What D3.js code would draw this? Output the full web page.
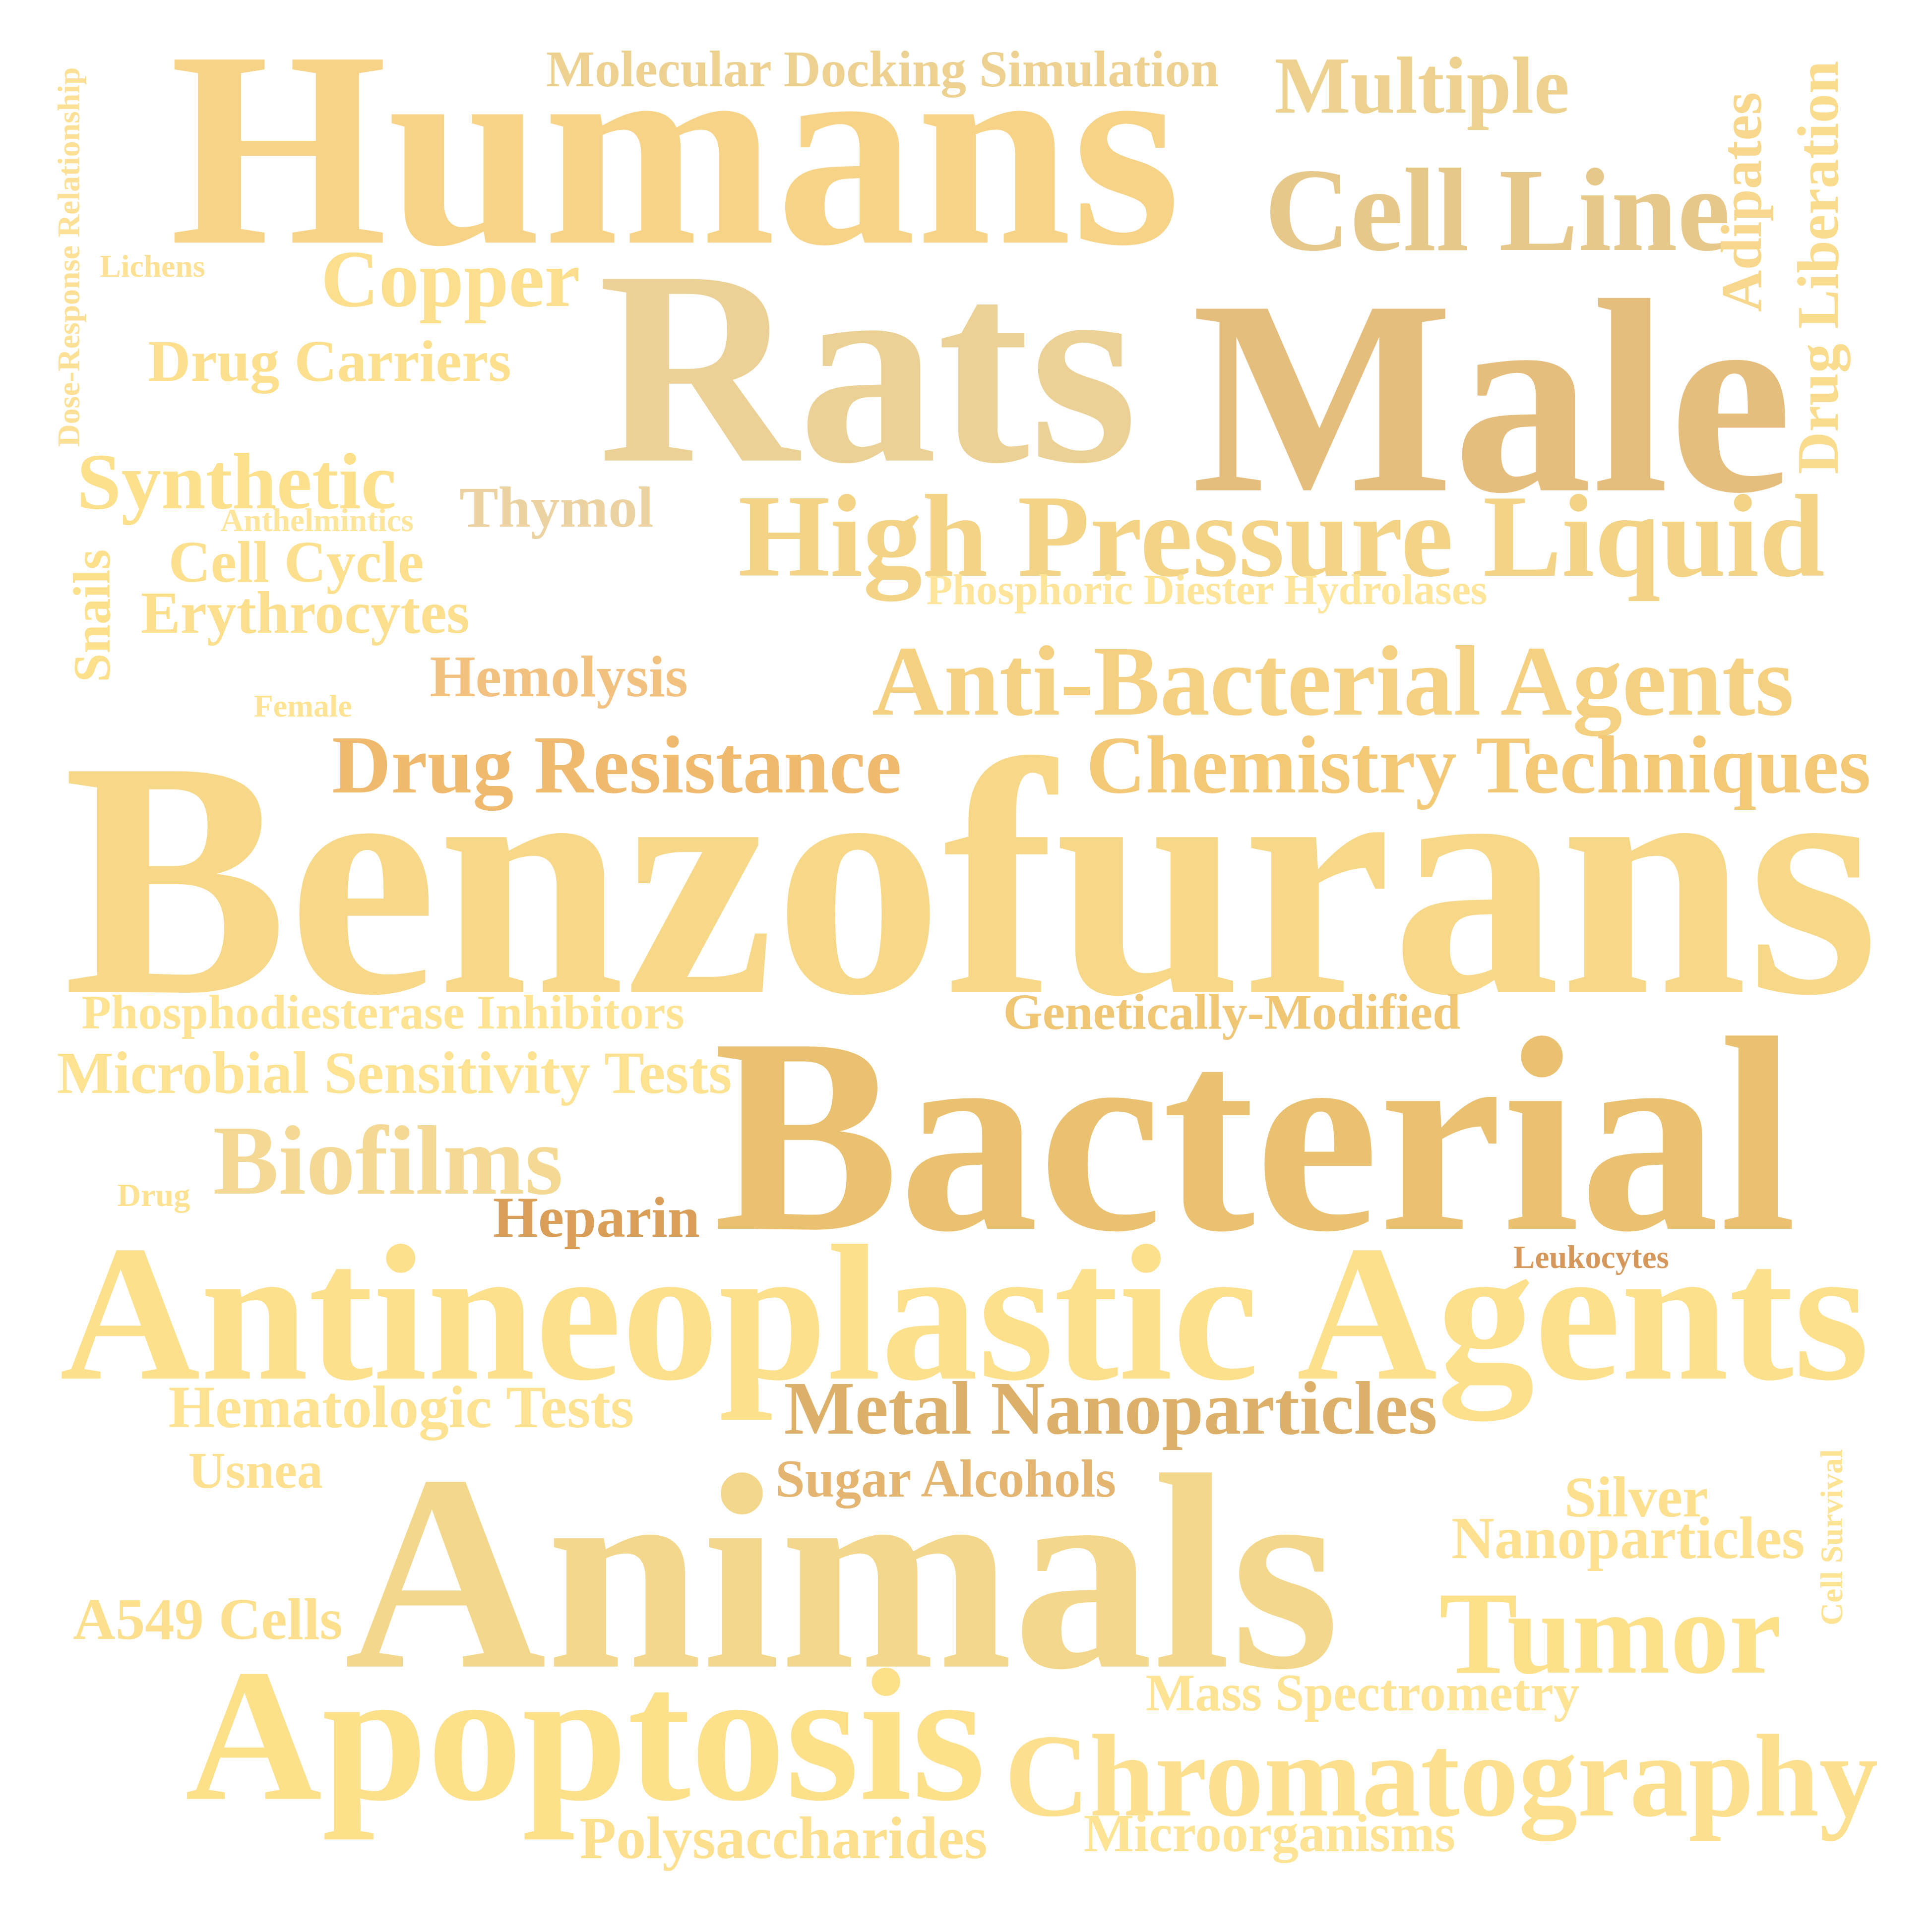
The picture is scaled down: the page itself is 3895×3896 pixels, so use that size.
<!DOCTYPE html>
<html>
<head>
<meta charset="utf-8">
<script src="https://cdn.jsdelivr.net/npm/d3@7"></script>
<style>
  body { margin: 0; background: #fff; }
</style>
</head>
<body>
<script>
// word cloud of MeSH terms, weights
var words = ["Humans", "Molecular Docking Simulation", "Multiple", "Cell Line", "Adipates",
  "Drug Liberation", "Dose-Response Relationship", "Lichens", "Copper", "Drug Carriers",
  "Rats", "Male", "Synthetic", "Anthelmintics", "Thymol", "Cell Cycle", "Erythrocytes",
  "Snails", "High Pressure Liquid", "Phosphoric Diester Hydrolases", "Hemolysis", "Female",
  "Anti-Bacterial Agents", "Drug Resistance", "Chemistry Techniques", "Benzofurans",
  "Phosphodiesterase Inhibitors", "Genetically-Modified", "Microbial Sensitivity Tests",
  "Bacterial", "Biofilms", "Drug", "Heparin", "Leukocytes", "Antineoplastic Agents",
  "Hematologic Tests", "Metal Nanoparticles", "Usnea", "Sugar Alcohols", "Animals",
  "A549 Cells", "Apoptosis", "Polysaccharides", "Silver", "Nanoparticles", "Cell Survival",
  "Tumor", "Mass Spectrometry", "Chromatography", "Microorganisms"];

var weights = [226, 41.5, 65, 96, 47, 47.5, 25.5, 25.5, 65, 47.8,
  224, 224, 64.5, 26, 47, 47.3, 48, 42, 95.5, 34.5, 47.5, 25.5,
  80.5, 66, 66.5, 272, 39.2, 40.8, 48.4, 225, 79.5, 26.5, 47, 26, 157,
  48.5, 60.7, 41.6, 43, 226, 47.5, 153, 48.2, 46.5, 48, 25.5,
  95, 42.3, 95, 43];

// placement of each word on a 1560 grid (left/baseline), and its turn
var placeX = [137, 441, 1029, 1021, 1422, 1484, 64, 80.6, 259, 119.5,
  483, 962, 62, 178, 371, 136, 113.6, 88.7, 596, 748, 347, 205,
  704, 268, 877, 51, 65.8, 810, 46, 576, 172, 94.6, 398, 1222, 48.3,
  136, 633, 152, 626, 278, 59, 149.5, 468, 1263, 1172, 1487.5,
  1162, 925, 811, 875];
var placeY = [196, 69.5, 91, 202, 252, 383, 361, 223.5, 247, 307.5,
  372, 396, 410.5, 429, 425.5, 470, 511, 551, 465, 488, 562.5, 578.7,
  577, 640, 640, 801, 830.5, 831, 882.6, 992.5, 964, 974, 999, 1024, 1113.4,
  1152.6, 1158, 1201.7, 1208.7, 1346, 1323.6, 1453, 1500.8, 1224.7, 1258.5, 1312.8,
  1351, 1381.5, 1466.4, 1495];
var turned = ["Adipates", "Drug Liberation", "Dose-Response Relationship", "Snails", "Cell Survival"];

var palette = ["#F6D386", "#ECD191", "#ECD28E", "#E6C88A", "#F6D78C",
  "#FADC8F", "#FCE096", "#FCE195", "#FCDF8C", "#FDE08E",
  "#EBD196", "#E5BE7E", "#FDE08B", "#FDE59C", "#ECD2A0", "#FDE08D", "#FCDF8C",
  "#FDE08C", "#F3D385", "#FEE59A", "#F2C17F", "#FDE394",
  "#F4D080", "#EFB96E", "#F3C977", "#F7D888",
  "#FDE392", "#EFC674", "#FDE391",
  "#EAC171", "#F3D993", "#FDE391", "#D99F59", "#D6975A", "#FDE08B",
  "#FDE291", "#DCB069", "#FDE190", "#E4B570", "#F3D78C",
  "#FDE08E", "#FDE08A", "#FDE08D", "#FDE08E", "#FDE190", "#FDE394",
  "#FDE08A", "#FDE394", "#FDE08E", "#FDE394"];

var w = 3895;
var h = 3896;

var x = d3.scaleLinear().domain([0, 1560]).range([0, w]);
var y = d3.scaleLinear().domain([0, 1560]).range([0, w]);
var size = d3.scaleLinear().domain([0, 1560]).range([0, w]);
var color = d3.scaleOrdinal().domain(words).range(palette);

var data = words.map(function(d, i) {
  return {text: d, weight: weights[i], px: placeX[i], py: placeY[i], turn: turned.indexOf(d) >= 0};
});

var svg = d3.select("body").append("svg")
  .attr("width", w)
  .attr("height", h);

svg.append("rect")
  .attr("width", w)
  .attr("height", h)
  .attr("fill", "#ffffff");

svg.append("g")
  .selectAll("text")
  .data(data)
  .enter()
  .append("text")
  .attr("transform", function(d) {
    return "translate(" + x(d.px) + "," + y(d.py) + ")" + (d.turn ? " rotate(-90)" : "");
  })
  .attr("font-family", "'Liberation Serif', 'Times New Roman', serif")
  .attr("font-weight", "bold")
  .attr("font-size", function(d) { return size(d.weight); })
  .attr("fill", function(d) { return color(d.text); })
  .text(function(d) { return d.text; });
</script>
</body>
</html>
